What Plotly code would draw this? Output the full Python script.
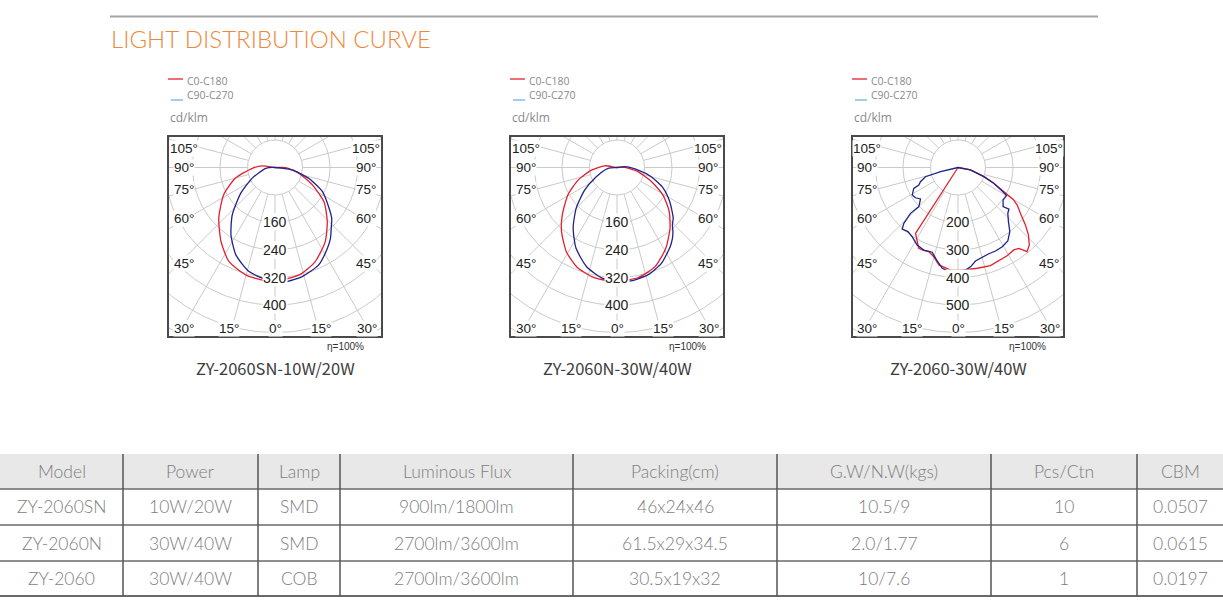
import numpy as np
import plotly.graph_objects as go

W, H = 1223, 603

# ---------------- data ----------------
title_text = "LIGHT DISTRIBUTION CURVE"
legend_names = ["C0-C180", "C90-C270"]
unit_label = "cd/klm"
efficiency_label = "η=100%"
model_titles = ["ZY-2060SN-10W/20W", "ZY-2060N-30W/40W", "ZY-2060-30W/40W"]
ring_steps = [80, 80, 100]
ring_labels = [[160, 240, 320, 400], [160, 240, 320, 400], [200, 300, 400, 500]]
side_angle_labels = ["105°", "90°", "75°", "60°", "45°"]
bottom_angle_labels = ["30°", "15°", "0°", "15°", "30°"]

# angle in degrees from nadir (positive = left half), intensity in cd/klm
p1_c0_deg = [100, 97, 88, 75, 62, 48, 36, 26, 15, 5, -2, -13, -23, -34, -44, -55, -65, -76, -89, -95]
p1_c0_cd = [0, 37, 66, 119, 169, 220, 267, 305, 324, 330, 329, 320, 298, 261, 219, 174, 120, 72, 31, 0]
p1_c90_deg = [90, 85, 65, 53, 42, 33, 24, 14, 5, -5, -14, -24, -33, -38, -43, -48, -53, -63, -72, -82, -95]
p1_c90_cd = [0, 27, 73, 125, 186, 235, 279, 312, 326, 334, 327, 311, 280, 262, 240, 222, 197, 155, 104, 51, 0]

p2_c0_deg = [100, 98, 84, 72, 61, 49, 41, 31, 22, 13, 5, -2, -11, -21, -31, -41, -50, -59, -68, -79, -91, -95]
p2_c0_cd = [0, 36, 75, 119, 163, 211, 246, 286, 312, 326, 330, 330, 326, 309, 275, 235, 198, 156, 108, 62, 22, 0]
p2_c90_deg = [90, 85, 66, 55, 45, 36, 27, 17, 8, -1, -7, -16, -25, -34, -38, -41, -44, -48, -57, -66, -75, -83, -96, -100]
p2_c90_cd = [0, 26, 66, 115, 168, 217, 263, 302, 324, 330, 332, 325, 307, 277, 262, 248, 232, 220, 183, 147, 103, 62, 22, 0]

p3_c0_deg = [90, 32.8, 25.9, 23.5, 19.1, 15.2, 11.1, 4.2, -3.3, -10.8, -18.3, -24.7, -29.1, -34.1, -37.0,
             -39.4, -42.6, -46.2, -49.6, -53.1, -57.6, -60.0, -61.4, -63.0, -66.2, -70.5, -78.7, -90]
p3_c0_cd = [0, 285, 327, 327, 324, 336, 361, 374, 373, 373, 376, 370, 367, 362, 368,
            396, 383, 355, 322, 287, 255, 232, 204, 180, 142, 100, 46, 0]
p3_c90_deg = [90, 76.6, 74.2, 69.3, 65.9, 64.7, 59.0, 54.6, 50.0, 45.0, 46.0, 44.1, 42.2, 38.0, 33.5, 27.8,
              22.5, 16.9, 13.1, 8.9, 5.1, 0.5, -4.2, -7.2, -10.6, -15.1, -19.7, -24.2, -29.2, -34.1,
              -38.9, -43.0, -47.4, -50.8, -49.1, -54.3, -59.9, -62.0, -66.2, -70.5, -78.7, -90]
p3_c90_cd = [0, 65, 123, 146, 156, 178, 194, 190, 178, 201, 240, 283, 302, 296, 302, 319,
             325, 322, 345, 371, 378, 379, 374, 364, 346, 337, 333, 333, 330, 323,
             300, 269, 246, 239, 217, 202, 204, 182, 142, 100, 46, 0]

panel_curves = [
    [(p1_c0_deg, p1_c0_cd), (p1_c90_deg, p1_c90_cd)],
    [(p2_c0_deg, p2_c0_cd), (p2_c90_deg, p2_c90_cd)],
    [(p3_c0_deg, p3_c0_cd), (p3_c90_deg, p3_c90_cd)],
]

table_header = ["Model", "Power", "Lamp", "Luminous Flux", "Packing(cm)", "G.W/N.W(kgs)", "Pcs/Ctn", "CBM"]
table_model = ["ZY-2060SN", "ZY-2060N", "ZY-2060"]
table_power = ["10W/20W", "30W/40W", "30W/40W"]
table_lamp = ["SMD", "SMD", "COB"]
table_flux = ["900lm/1800lm", "2700lm/3600lm", "2700lm/3600lm"]
table_packing = ["46x24x46", "61.5x29x34.5", "30.5x19x32"]
table_weight = ["10.5/9", "2.0/1.77", "10/7.6"]
table_pcs = ["10", "6", "1"]
table_cbm = ["0.0507", "0.0615", "0.0197"]

# ---------------- layout geometry (pixels) ----------------
panel_box_x = [(169, 381), (511, 723), (853, 1063)]
box_top, box_bot = 137, 336
center_y = 167.5
ring_px = 27.5
col_edges = [0, 123, 258, 340, 573, 777, 991, 1137, 1223]
row_edges = [454, 489, 525, 561, 596]

RED = "#e3202e"
NAVY = "#1f2388"
LEG_BLUE = "#55a6d9"
GRID = "#cacaca"


def px(x):
    return x / W


def py(y):
    return 1 - y / H


fig = go.Figure()
annotations = []
shapes = []

theta = np.linspace(0, 2 * np.pi, 361)

for k in range(3):
    x0, x1 = panel_box_x[k]
    cx = (x0 + x1) / 2
    step = ring_steps[k]
    s = ring_px / step
    xa = "x" if k == 0 else f"x{k + 1}"
    ya = "y" if k == 0 else f"y{k + 1}"
    xname = "xaxis" if k == 0 else f"xaxis{k + 1}"
    yname = "yaxis" if k == 0 else f"yaxis{k + 1}"

    # grid circles
    gx, gy = [], []
    for i in range(1, 9):
        r = step * i
        gx += list(r * np.cos(theta)) + [None]
        gy += list(r * np.sin(theta)) + [None]
    # radial lines every 15 degrees
    for a in range(0, 360, 15):
        ar = np.radians(a)
        gx += [step * np.sin(ar), step * 12 * np.sin(ar), None]
        gy += [-step * np.cos(ar), -step * 12 * np.cos(ar), None]
    fig.add_trace(go.Scatter(x=gx, y=gy, mode="lines", line=dict(color=GRID, width=1),
                             hoverinfo="skip", showlegend=False, xaxis=xa, yaxis=ya))

    colors = [RED, NAVY]
    for j, (deg, cd) in enumerate(panel_curves[k]):
        d = np.radians(np.array(deg, dtype=float))
        r = np.array(cd, dtype=float)
        fig.add_trace(go.Scatter(
            x=-r * np.sin(d), y=-r * np.cos(d), mode="lines",
            line=dict(color=colors[j], width=1.3, shape="spline" if k < 2 else "linear",
                      smoothing=0.6),
            showlegend=False, hoverinfo="skip", xaxis=xa, yaxis=ya))

    xr = [(x0 - cx) / s, (x1 - cx) / s]
    yr = [-(box_bot - center_y) / s, (center_y - box_top) / s]
    axis_common = dict(showgrid=False, zeroline=False, showticklabels=False, ticks="",
                       showline=True, mirror=True, linecolor="#4a4a4a", linewidth=1.6,
                       fixedrange=True)
    fig.update_layout(**{
        xname: dict(domain=[px(x0), px(x1)], range=xr, anchor=ya, **axis_common),
        yname: dict(domain=[py(box_bot), py(box_top)], range=yr, anchor=xa, **axis_common),
    })

    # ring value labels
    for v in ring_labels[k]:
        annotations.append(dict(x=0, y=-v, xref=xa, yref=ya, text=str(v), showarrow=False,
                                font=dict(family="Liberation Sans, Arial", size=14, color="#222"),
                                bgcolor="white", borderpad=0, xanchor="center", yanchor="middle"))
    # side angle labels
    side_dy = [-19.5, 0, 21.5, 51, 96]
    for lab, dy in zip(side_angle_labels, side_dy):
        for sign in (-1, 1):
            annotations.append(dict(x=px(cx + sign * 91), y=py(center_y + dy), xref="paper", yref="paper",
                                    text=lab, showarrow=False,
                                    font=dict(family="Liberation Sans, Arial", size=13.5, color="#222"),
                                    bgcolor="white", borderpad=0, xanchor="center", yanchor="middle"))
    bottom_dx = [-91, -46, 0, 46, 92]
    for lab, dx in zip(bottom_angle_labels, bottom_dx):
        annotations.append(dict(x=px(cx + dx), y=py(center_y + 160.5), xref="paper", yref="paper",
                                text=lab, showarrow=False,
                                font=dict(family="Liberation Sans, Arial", size=13.5, color="#222"),
                                bgcolor="white", borderpad=0, xanchor="center", yanchor="middle"))

    # legend
    shapes.append(dict(type="line", xref="paper", yref="paper", x0=px(x0 - 1), x1=px(x0 + 14),
                       y0=py(79), y1=py(79), line=dict(color=RED, width=1.3)))
    shapes.append(dict(type="line", xref="paper", yref="paper", x0=px(x0 + 2), x1=px(x0 + 14),
                       y0=py(100), y1=py(100), line=dict(color=LEG_BLUE, width=1.1)))
    annotations.append(dict(x=px(x0 + 16), y=py(88.5), xref="paper", yref="paper",
                            text=legend_names[0] + "<br>" + legend_names[1],
                            showarrow=False, xanchor="left", yanchor="middle", align="left",
                            font=dict(family="Open Sans", size=10.5, color="#8a8a8a")))
    annotations.append(dict(x=px(x0 - 1), y=py(117.5), xref="paper", yref="paper", text=unit_label,
                            showarrow=False, xanchor="left", yanchor="middle",
                            font=dict(family="Open Sans", size=12, color="#8a8a8a")))
    annotations.append(dict(x=px(x1 - 15), y=py(346.5), xref="paper", yref="paper", text=efficiency_label,
                            showarrow=False, xanchor="right", yanchor="middle",
                            font=dict(family="Liberation Sans, Arial", size=10, color="#333")))
    annotations.append(dict(x=px(cx), y=py(368), xref="paper", yref="paper", text=model_titles[k],
                            showarrow=False, xanchor="center", yanchor="middle",
                            font=dict(family="Noto Sans CJK SC", size=16.5, color="#3c3c3c")))

# title and top rule
shapes.append(dict(type="line", xref="paper", yref="paper", x0=px(110), x1=px(1098), y0=py(16.5), y1=py(16.5),
                   line=dict(color="#a3a3a3", width=2)))
annotations.append(dict(x=px(109), y=py(38), xref="paper", yref="paper", text=title_text, showarrow=False,
                        xanchor="left", yanchor="middle",
                        font=dict(family="Lato", size=24, color="#f0883c", weight=300)))

# table
shapes.append(dict(type="rect", xref="paper", yref="paper", x0=0, x1=1, y0=py(row_edges[1]), y1=py(row_edges[0]),
                   fillcolor="#e8e8e8", line=dict(width=0), layer="below"))
for i, yv in enumerate(row_edges[1:]):
    shapes.append(dict(type="line", xref="paper", yref="paper", x0=0, x1=1, y0=py(yv), y1=py(yv),
                       line=dict(color="#6a6a6a", width=1.5 if i < 3 else 2)))
for xv in col_edges[1:-1]:
    shapes.append(dict(type="line", xref="paper", yref="paper", x0=px(xv), x1=px(xv),
                       y0=py(row_edges[0]), y1=py(row_edges[-1]), line=dict(color="#555", width=1.5)))

table_rows = [table_header] + [list(r) for r in zip(table_model, table_power, table_lamp, table_flux,
                                                     table_packing, table_weight, table_pcs, table_cbm)]
for ri, row in enumerate(table_rows):
    yc = (row_edges[ri] + row_edges[ri + 1]) / 2
    for ci, txt in enumerate(row):
        xc = (col_edges[ci] + col_edges[ci + 1]) / 2
        annotations.append(dict(x=px(xc), y=py(yc), xref="paper", yref="paper", text=txt, showarrow=False,
                                xanchor="center", yanchor="middle",
                                font=dict(family="Lato", size=17.5, color="#7d7d7d", weight=300)))

fig.update_layout(width=W, height=H, margin=dict(l=0, r=0, t=0, b=0),
                  paper_bgcolor="white", plot_bgcolor="white",
                  annotations=annotations, shapes=shapes, showlegend=False)

fig.write_html("out.html", config={"displayModeBar": False},
               post_script="document.body.style.margin='0px';")
